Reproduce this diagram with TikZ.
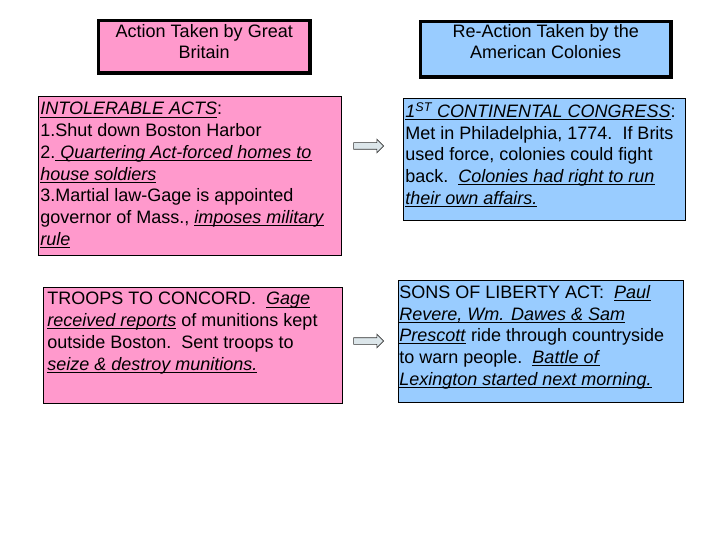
\documentclass[tikz,border=0pt]{standalone}
\usepackage{fontspec}
\setmainfont{Liberation Sans}
\usetikzlibrary{shapes.arrows}
\definecolor{britpink}{HTML}{FF99CC}
\definecolor{colblue}{HTML}{99CCFF}
\definecolor{arrowfill}{HTML}{DCE6EA}
\newsavebox{\ulinebox}
\newcommand{\ulraw}[1]{\leavevmode\sbox{\ulinebox}{#1}\rlap{\rule[-2.4pt]{\wd\ulinebox}{0.8pt}}\usebox{\ulinebox}}
\newcommand{\uit}[1]{\ulraw{\textit{#1}}}

\begin{document}
\begin{tikzpicture}[x=1pt,y=-1pt,
  headbox/.style={draw, line width=3.5pt, anchor=north west, inner xsep=0pt, font=\fontsize{18}{21}\selectfont},
  factbox/.style={draw, line width=0.8pt, anchor=north west, inner xsep=2pt, inner ysep=5pt, font=\fontsize{18}{21.7}\selectfont},
  pushArrow/.style={single arrow, draw=black!80, fill=arrowfill, line width=0.6pt, inner xsep=0pt, inner ysep=3pt, minimum height=30pt, single arrow head extend=3.5pt}]
\useasboundingbox (0,0) rectangle (720,540);

% column heads
\node[headbox, fill=britpink, inner ysep=4.25pt] (britHead) at (96.75,18.75) {\parbox[t][44pt][t]{211.5pt}{\centering Action Taken by Great\\Britain}};
\node[headbox, fill=colblue, inner ysep=3pt] (colHead) at (418.75,19.75) {\parbox[t][49.5pt][t]{250.5pt}{\centering Re-Action Taken by the\\American Colonies}};

% first row
\node[factbox, fill=britpink, inner ysep=6pt] (acts) at (38,96) {\parbox[t][147pt][t]{299pt}{\raggedright
\uit{INTOLERABLE ACTS}:\\
1.Shut down Boston Harbor\\
2.\ulraw{ \textit{Quartering Act-forced homes to}}\\
\uit{house soldiers}\\
3.Martial law-Gage is appointed\\
governor of Mass., \uit{imposes military}\\
\uit{rule}}};
\node[factbox, fill=colblue, inner ysep=4pt] (congress) at (403,98) {\parbox[t][114pt][t]{278pt}{\raggedright
\uit{1\textsuperscript{ST} CONTINENTAL CONGRESS}:\\
Met in Philadelphia, 1774.\ \ If Brits\\
used force, colonies could fight\\
back.\ \ \uit{Colonies had right to run}\\
\uit{their own affairs.}}};

% second row
\node[factbox, fill=britpink, inner xsep=4pt] (concord) at (43,287) {\parbox[t][106pt][t]{291pt}{\raggedright
TROOPS TO CONCORD.\ \ \uit{Gage}\\
\uit{received reports} of munitions kept\\
outside Boston.\ \ Sent troops to\\
\uit{seize \& destroy munitions.}}};
\node[factbox, fill=colblue, inner xsep=1pt] (liberty) at (398,280) {\parbox[t][112pt][t]{283pt}{\raggedright
SONS OF LIBERTY ACT:\ \ \uit{Paul}\\
\uit{Revere, Wm. Dawes \& Sam}\\
\uit{Prescott} ride through countryside\\
to warn people.\ \ \uit{Battle of}\\
\uit{Lexington started next morning.}}};

% arrows
\node[pushArrow] (arrA) at (367,146) {};
\node[pushArrow] (arrB) at (367,341) {};
\end{tikzpicture}
\end{document}
